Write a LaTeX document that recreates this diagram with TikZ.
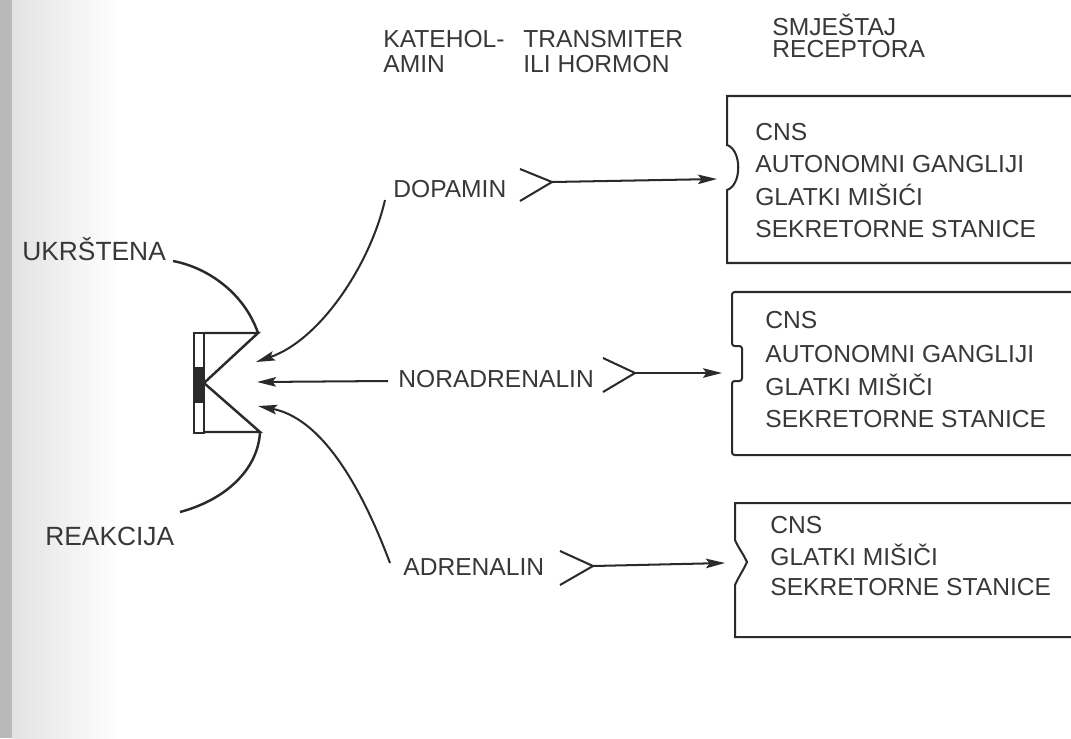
\documentclass[tikz,border=0pt]{standalone}
\usepackage{fontspec}
\setmainfont{Liberation Sans}
\usetikzlibrary{arrows.meta}
\definecolor{ink}{HTML}{2A2A2A}
\definecolor{txt}{HTML}{383838}
\begin{document}
\begin{tikzpicture}[x=0.02cm,y=-0.02cm,
 lbl/.style={anchor=base west,inner sep=0,text=txt,font=\fontsize{14}{16}\selectfont},
 biglbl/.style={lbl,font=\fontsize{15}{18}\selectfont},
 ln/.style={draw=ink,line width=1.15pt},
 arr/.style={ln,-{Stealth[length=3.8mm,width=1.9mm,inset=0.7mm]}}]
\useasboundingbox (0,0) rectangle (1071,738);
\fill[white] (0,0) rectangle (1071,738);
\shade[left color=gray!22,right color=white] (12,0) rectangle (120,738);
\fill[gray!55] (0,0) rectangle (12,738);

% headers
\node[lbl] (kat1) at (383,47) {KATEHOL-};
\node[lbl] (kat2) at (383,72) {AMIN};
\node[lbl] (tr1) at (523,47) {TRANSMITER};
\node[lbl] (tr2) at (523,72) {ILI HORMON};
\node[lbl] (sm1) at (772,35) {SMJEŠTAJ};
\node[lbl] (sm2) at (772,57) {RECEPTORA};

% boxes
\draw[ln] (1071,96) -- (727,96) -- (727,145) .. controls (742,150) and (742,185) .. (727,190) -- (727,263) -- (1071,263);
\draw[ln,rounded corners=1.5pt] (1071,292) -- (732,292) -- (732,346) -- (742,346) -- (742,381) -- (732,381) -- (732,455) -- (1071,455);
\draw[ln] (1071,503) -- (735,503) -- (735,540) .. controls (739,549) and (744,555) .. (747,562) .. controls (744,569) and (739,576) .. (735,585) -- (735,637) -- (1071,637);

\node[lbl] (b1a) at (755,140) {CNS};
\node[lbl] (b1b) at (755,172) {AUTONOMNI GANGLIJI};
\node[lbl] (b1c) at (755,205) {GLATKI MIŠIĆI};
\node[lbl] (b1d) at (755,237) {SEKRETORNE STANICE};

\node[lbl] (b2a) at (765,328) {CNS};
\node[lbl] (b2b) at (765,362) {AUTONOMNI GANGLIJI};
\node[lbl] (b2c) at (765,395) {GLATKI MIŠIČI};
\node[lbl] (b2d) at (765,427) {SEKRETORNE STANICE};

\node[lbl] (b3a) at (770,533) {CNS};
\node[lbl] (b3b) at (770,565) {GLATKI MIŠIČI};
\node[lbl] (b3c) at (770,595) {SEKRETORNE STANICE};

% arrow targets at the boxes
\coordinate (t1) at (717,179);
\coordinate (t2) at (722,373);
\coordinate (t3) at (725,563);

% middle labels with chevrons
\node[lbl] (dop) at (393,197) {DOPAMIN};
\draw[ln] (520,169) -- (552,182) -- (520,201);
\coordinate (dopx) at (552,182);
\draw[arr] (dopx) -- (t1);

\node[lbl] (nor) at (398,387) {NORADRENALIN};
\draw[ln] (603,358) -- (635,373) -- (603,392);
\coordinate (norx) at (635,373);
\draw[arr] (norx) -- (t2);

\node[lbl] (adr) at (403,575) {ADRENALIN};
\draw[ln] (560,551) -- (593,566) -- (560,585);
\coordinate (adrx) at (593,566);
\draw[arr] (adrx) -- (t3);

% receptor
\coordinate (r1) at (256,362);
\coordinate (r2) at (257,382);
\coordinate (r3) at (258,406);
\draw[ln,line width=1.4pt] (194,333) rectangle (204,433);
\fill[ink] (194,367) rectangle (204,403);
\draw[ln,line width=1.4pt] (204,333) -- (258,333) -- (204,383) -- (260,432) -- (204,432);

\coordinate (d0) at (385,200);
\coordinate (n0) at (388,381);
\coordinate (a0) at (390,563);
\draw[arr] (d0) .. controls (370,265) and (320,340) .. (r1);
\draw[arr] (n0) -- (r2);
\draw[arr] (a0) .. controls (370,510) and (330,420) .. (r3);

% side labels with arcs
\node[biglbl] (ukr) at (22,260) {UKRŠTENA};
\node[biglbl] (rea) at (45,545) {REAKCIJA};
\coordinate (u0) at (173,261);
\coordinate (u1) at (258,333);
\coordinate (l0) at (260,432);
\coordinate (l1) at (180,512);
\draw[ln,line width=1.4pt] (u0) .. controls (210,268) and (245,295) .. (u1);
\draw[ln,line width=1.4pt] (l0) .. controls (258,470) and (225,500) .. (l1);
\end{tikzpicture}
\end{document}
